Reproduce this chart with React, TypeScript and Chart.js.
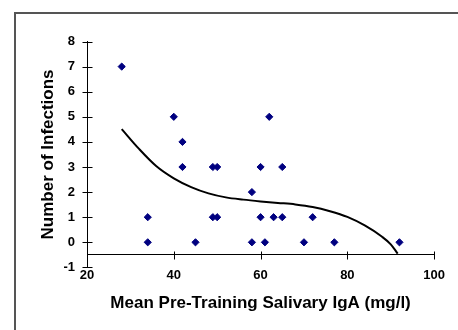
import { useEffect, useRef } from "react";
import { Chart, registerables } from "chart.js";
Chart.register(...registerables);

const igaValues = [28, 34, 34, 40, 42, 42, 45, 49, 50, 49, 50, 58, 58, 60, 60, 61, 62, 63, 65, 65, 70, 72, 77, 92];
const infectionCounts = [7, 1, 0, 5, 4, 3, 0, 3, 3, 1, 1, 2, 0, 3, 1, 0, 5, 1, 3, 1, 0, 1, 0, 0];
const trendIga = [28, 32, 36, 40, 44, 48, 52, 56, 60, 64, 68, 72, 76, 80, 84, 88, 90, 91.6];
const trendInfections = [4.51, 3.72, 3.03, 2.55, 2.2, 1.95, 1.79, 1.7, 1.63, 1.57, 1.51, 1.41, 1.24, 1.01, 0.67, 0.22, -0.08, -0.45];
const xTickValues = [20, 40, 60, 80, 100];
const yTickValues = [-1, 0, 1, 2, 3, 4, 5, 6, 7, 8];
const xTitle = "Mean Pre-Training Salivary IgA (mg/l)";
const yTitle = "Number of Infections";

const FONT = "'Liberation Sans', Arial, sans-serif";

export default function App() {
  const ref = useRef<HTMLCanvasElement | null>(null);
  useEffect(() => {
    if (!ref.current) return;
    const framePlugin = {
      id: "frame",
      beforeDraw(chart: any) {
        const ctx = chart.ctx;
        ctx.save();
        ctx.strokeStyle = "#555";
        ctx.lineWidth = 2;
        ctx.strokeRect(15, 13, 600, 500);
        ctx.restore();
      },
    };
    const crossTicks = {
      id: "crossTicks",
      afterDraw(chart: any) {
        const ctx = chart.ctx;
        const xs = chart.scales.x;
        const ys = chart.scales.y;
        const ax = Math.round(xs.getPixelForValue(xs.min)) + 0.5;
        const ay = Math.round(ys.getPixelForValue(-0.5)) + 0.5;
        ctx.save();
        ctx.strokeStyle = "#000";
        ctx.lineWidth = 1;
        ctx.beginPath();
        yTickValues.forEach((v) => {
          const py = Math.round(ys.getPixelForValue(v)) + 0.5;
          ctx.moveTo(ax - 5, py);
          ctx.lineTo(ax + 5, py);
        });
        xTickValues.forEach((v) => {
          const px = Math.round(xs.getPixelForValue(v)) + 0.5;
          ctx.moveTo(px, ay - 4);
          ctx.lineTo(px, ay + 4);
        });
        ctx.stroke();
        ctx.restore();
      },
    };
    const chart = new Chart(ref.current, {
      type: "scatter",
      data: {
        datasets: [
          {
            label: "Trend",
            data: trendIga.map((x, i) => ({ x, y: trendInfections[i] })),
            showLine: true,
            borderColor: "#000",
            borderWidth: 2,
            pointRadius: 0,
            cubicInterpolationMode: "monotone",
            fill: false,
          } as any,
          {
            label: "Infections",
            data: igaValues.map((x, i) => ({ x, y: infectionCounts[i] })),
            pointStyle: "rectRot",
            pointRadius: 3.6,
            borderWidth: 1,
            backgroundColor: "#000080",
            borderColor: "#000080",
          },
        ],
      },
      options: {
        animation: false,
        responsive: false,
        layout: { padding: { left: 0, top: 41.5, right: 19.7, bottom: 62.6 } },
        plugins: { legend: { display: false }, tooltip: { enabled: false } },
        scales: {
          x: {
            type: "linear",
            min: 20,
            max: 100,
            position: { y: -0.5 } as any,
            grid: { display: false, drawTicks: false },
            border: { display: true, color: "#000", width: 1 },
            ticks: {
              stepSize: 20,
              padding: 13,
              color: "#000",
              font: { family: FONT, size: 13, weight: "bold" },
            },
            title: {
              display: true,
              text: xTitle,
              color: "#000",
              padding: 0,
              font: { family: FONT, size: 17, weight: "bold" },
            },
            afterFit(scale: any) {
              scale.height = 59;
            },
          },
          y: {
            type: "linear",
            min: -1,
            max: 8,
            position: "left",
            grid: { display: false, drawTicks: false },
            border: { display: true, color: "#000", width: 1 },
            ticks: {
              stepSize: 1,
              padding: 12,
              color: "#000",
              font: { family: FONT, size: 13, weight: "bold" },
            },
            title: {
              display: true,
              text: yTitle,
              color: "#000",
              padding: { top: 37.8, bottom: 0 },
              font: { family: FONT, size: 17, weight: "bold" },
            },
            afterFit(scale: any) {
              scale.width = 87;
            },
          },
        },
      },
      plugins: [framePlugin, crossTicks],
    });
    return () => chart.destroy();
  }, []);
  return (
    <div style={{ position: "fixed", left: 0, top: 0, width: 458, height: 330, background: "#fff" }}>
      <canvas ref={ref} width={458} height={330} style={{ display: "block" }} />
    </div>
  );
}
